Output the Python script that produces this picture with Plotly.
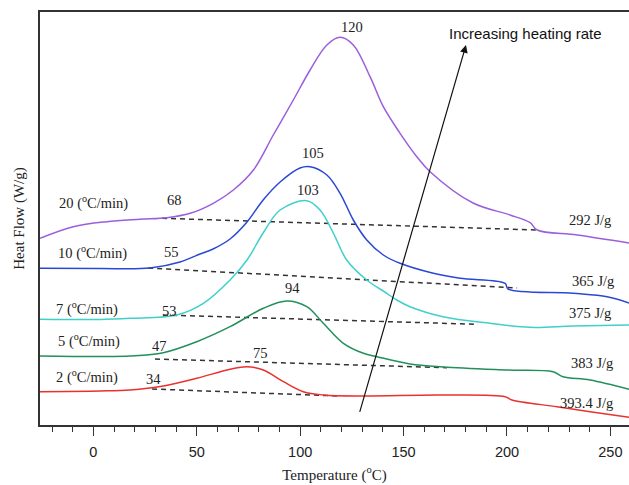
import plotly.graph_objects as go

# ---- data (temperature in °C, heat flow in arbitrary units) ----
rate_labels = ["2", "5", "7", "10", "20"]
colors = ["#e8322e", "#22905a", "#3fd0cc", "#2a48d4", "#9a5fdc"]

t_2 = [-25.8, 3.2, 17.7, 33.8, 50, 66.1, 74.2, 82.2, 91.9, 101.5, 111.2, 130.6, 167.6, 199.1, 202.4, 224.2, 240.2, 259]
h_2 = [33.3, 34, 35, 39, 46.7, 55.7, 58.3, 55, 43.3, 33.3, 30, 29, 30, 28.3, 25, 18.3, 13.3, 7.7]

t_5 = [-25.8, 3.2, 17.7, 33.8, 50, 66.1, 82.2, 93.5, 103.2, 111.2, 120.9, 130.6, 137.2, 153.1, 169.1, 200, 222.3, 227.1, 240.2, 259]
h_5 = [69, 68.5, 69, 72.3, 83.3, 98.3, 116.7, 124, 118.3, 101.7, 81.7, 71.7, 68.3, 61, 58, 55, 53.3, 48.3, 45, 35.7]

t_7 = [-25.8, 3.2, 17.7, 40.3, 53.2, 66.1, 74.3, 82.1, 90.3, 103.2, 109.6, 116.1, 122.5, 132.2, 141.9, 146.7, 153.1, 169.1, 191.8, 211.2, 232, 259]
h_7 = [105.7, 105.5, 106.7, 110, 121.7, 145, 165, 192, 215, 224.3, 215, 191.7, 165, 145, 131.7, 125, 118.3, 108.3, 101.7, 97.7, 99, 100]

t_10 = [-25.8, 3.2, 27.4, 41.9, 51.6, 57.9, 66.1, 74.3, 82.1, 90.3, 99.9, 104.8, 112.9, 119.3, 125.7, 132.2, 140.2, 148.3, 164.4, 177.3, 199.1, 200.5, 232, 248.4, 259]
h_10 = [156.7, 156.5, 157, 163, 171, 176, 186, 203, 225, 243, 257, 258.3, 250, 231.7, 205, 185, 170, 161.7, 151.7, 146.7, 141.7, 136, 131.7, 128.3, 122]

t_20 = [-25.8, -9.7, 6.5, 22.6, 35.5, 46.8, 58, 67.7, 77.4, 87, 96.7, 104.8, 112.9, 119.3, 125.7, 133.8, 140.2, 148.3, 156.4, 162.8, 183.6, 201.5, 211.2, 214.6, 233.9, 259]
h_20 = [186.7, 198.3, 203.3, 205.7, 207.3, 211.7, 221.7, 235, 255, 290, 325, 355, 380, 387.7, 380, 348.3, 318.3, 291.7, 268.3, 253.3, 222, 210, 202.3, 195, 190, 182]

# baselines (start/end temperature and heat flow)
base_t = [[28.4, 118.3], [29.8, 171], [33.7, 186], [26.5, 204.9], [33.2, 214.6]]
base_h = [[36, 29], [66, 57.3], [110, 100.7], [157, 137], [206.7, 195]]

onset_vals = ["34", "47", "53", "55", "68"]
peak_vals = ["75", "94", "103", "105", "120"]
enthalpy = ["393.4 J/g", "383 J/g", "375 J/g", "365 J/g", "292 J/g"]

curves_t = [t_2, t_5, t_7, t_10, t_20]
curves_h = [h_2, h_5, h_7, h_10, h_20]

fig = go.Figure()
for i in range(5):
    fig.add_trace(go.Scatter(x=base_t[i], y=base_h[i], mode="lines",
                             line=dict(color="#333333", width=1.5, dash="5px,4px"),
                             showlegend=False, hoverinfo="skip"))
for i in range(5):
    fig.add_trace(go.Scatter(x=curves_t[i], y=curves_h[i], mode="lines",
                             line=dict(color=colors[i], width=1.5, shape="spline", smoothing=1.0),
                             showlegend=False, name=rate_labels[i] + " °C/min"))

serif = dict(family="Liberation Serif, Times New Roman, serif", size=14.5, color="#222")
ann = []
rate_pos = [(-3.3, 48.3), (-2.1, 85), (-3.3, 117), (-0.4, 172.3), (-0.1, 223)]
onset_pos = [(28.9, 46), (31.8, 79), (36.6, 114), (37.6, 173), (39, 225)]
peak_pos = [(80.6, 72), (96.1, 137), (103.8, 235), (106.2, 272), (125, 398)]
enth_pos = [(238.6, 22.3), (241, 62.3), (240.2, 112.3), (241.6, 144.3), (240.2, 205)]
for i in range(5):
    ann.append(dict(x=rate_pos[i][0], y=rate_pos[i][1], text=rate_labels[i] + " (<sup>o</sup>C/min)",
                    showarrow=False, font=serif))
    ann.append(dict(x=onset_pos[i][0], y=onset_pos[i][1], text=onset_vals[i], showarrow=False, font=serif))
    ann.append(dict(x=peak_pos[i][0], y=peak_pos[i][1], text=peak_vals[i], showarrow=False, font=serif))
    ann.append(dict(x=enth_pos[i][0], y=enth_pos[i][1], text=enthalpy[i], showarrow=False, font=serif))

ann.append(dict(x=180.2, y=380, ax=128.6, ay=11.7, axref="x", ayref="y", xref="x", yref="y",
                text="", showarrow=True, arrowhead=2, arrowsize=1.3, arrowwidth=1.2, arrowcolor="#111"))
ann.append(dict(x=208.9, y=392, text="Increasing heating rate", showarrow=False,
                font=dict(family="Liberation Sans, Arial, sans-serif", size=15, color="#111")))

fig.update_layout(
    width=629, height=485,
    margin=dict(l=40, r=0, t=12, b=60),
    paper_bgcolor="white", plot_bgcolor="white",
    annotations=ann,
    xaxis=dict(range=[-25.8, 259], tickvals=[0, 50, 100, 150, 200, 250],
               ticks="outside", ticklen=9, tickwidth=1.3, tickcolor="#333",
               minor=dict(dtick=10, tick0=0, ticks="outside", ticklen=5, tickwidth=1.2, tickcolor="#333"),
               showline=True, linecolor="#333", linewidth=1.5, mirror=True,
               showgrid=False, zeroline=False, ticklabelstandoff=4,
               tickfont=dict(family="Liberation Sans, Arial, sans-serif", size=14.5, color="#222"),
               title=dict(text="Temperature (<sup>o</sup>C)",
                          font=dict(family="Liberation Serif, Times New Roman, serif", size=15, color="#222"),
                          standoff=10)),
    yaxis=dict(range=[0, 413], showticklabels=False, ticks="",
               showline=True, linecolor="#333", linewidth=1.5, mirror=False,
               showgrid=False, zeroline=False,
               title=dict(text="Heat Flow (W/g)",
                          font=dict(family="Liberation Serif, Times New Roman, serif", size=15, color="#222"),
                          standoff=10)),
)

fig.write_html("out.html")
